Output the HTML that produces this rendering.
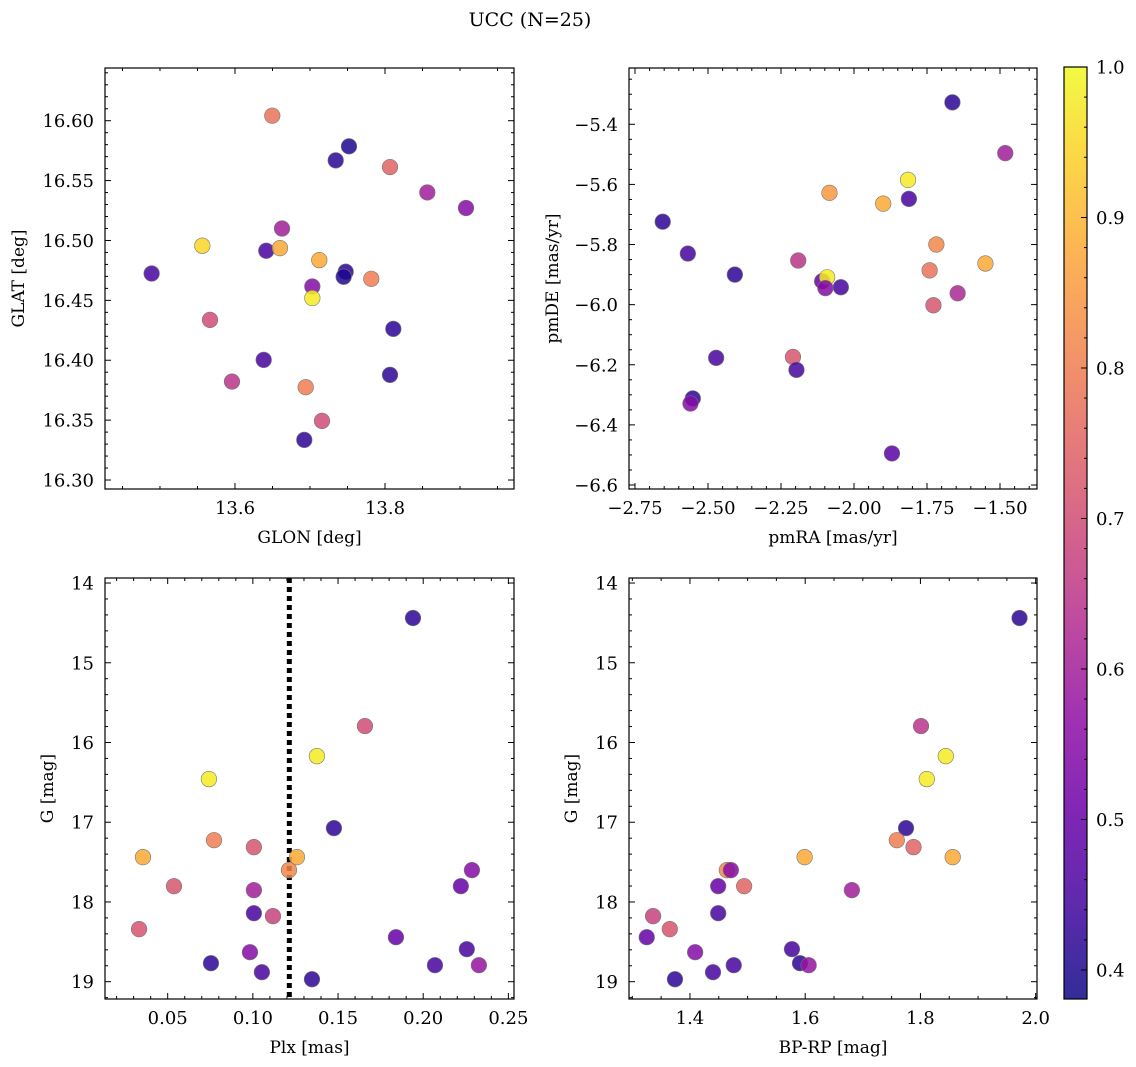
<!DOCTYPE html>
<html><head><meta charset="utf-8"><style>
html,body{margin:0;padding:0;background:#fff;}
svg{display:block;font-family:"DejaVu Serif","Liberation Serif",serif;}
</style></head><body>
<svg id="fig" width="1136" height="1067" viewBox="0 0 1136 1067" xmlns="http://www.w3.org/2000/svg">
<text x="530" y="26" font-size="19" text-anchor="middle">UCC (N=25)</text>
</svg>
<script>
// ---- data ----
const glon = [13.6497,13.7520,13.7343,13.8067,13.8564,13.9080,13.6627,13.5564,13.6417,13.6600,13.4889,13.7124,13.7476,13.7449,13.7817,13.7031,13.7031,13.5667,13.8111,13.6383,13.5960,13.8067,13.6943,13.7160,13.6924];
const glat = [16.6042,16.5786,16.5669,16.5613,16.5401,16.5271,16.5100,16.4956,16.4914,16.4936,16.4724,16.4836,16.4739,16.4697,16.4680,16.4616,16.4519,16.4337,16.4262,16.4003,16.3822,16.3878,16.3775,16.3494,16.3335];
const probPos = [0.78,0.40,0.42,0.75,0.60,0.55,0.60,0.95,0.45,0.88,0.45,0.88,0.42,0.40,0.80,0.55,0.98,0.70,0.42,0.45,0.65,0.42,0.80,0.70,0.42];

const pmra = [-1.663,-1.482,-1.815,-2.084,-1.900,-1.812,-2.655,-1.718,-2.191,-2.569,-2.408,-1.550,-1.741,-2.109,-2.092,-2.098,-2.045,-1.645,-1.728,-2.209,-2.197,-2.472,-2.552,-2.560,-1.870];
const pmde = [-5.327,-5.496,-5.585,-5.628,-5.664,-5.648,-5.724,-5.800,-5.853,-5.830,-5.900,-5.863,-5.886,-5.922,-5.909,-5.945,-5.942,-5.962,-6.002,-6.174,-6.217,-6.177,-6.312,-6.329,-6.495];
const probPm = [0.42,0.60,0.98,0.85,0.88,0.45,0.42,0.82,0.65,0.45,0.42,0.88,0.78,0.50,0.98,0.55,0.45,0.62,0.72,0.72,0.45,0.45,0.42,0.55,0.48];

const plx = [0.1940,0.1658,0.1376,0.0742,0.1476,0.0772,0.1006,0.1259,0.0355,0.1212,0.2286,0.0537,0.2221,0.1006,0.1006,0.1118,0.0332,0.1840,0.2256,0.0983,0.0754,0.2069,0.2327,0.1053,0.1347];
const gmagPlx = [14.439,15.794,16.171,16.459,17.074,17.225,17.312,17.438,17.438,17.601,17.601,17.802,17.802,17.852,18.141,18.178,18.341,18.442,18.592,18.630,18.768,18.793,18.793,18.881,18.969];
const probPlx = [0.42,0.70,0.98,0.98,0.42,0.80,0.72,0.88,0.88,0.82,0.55,0.72,0.50,0.60,0.45,0.68,0.72,0.50,0.45,0.55,0.42,0.45,0.58,0.45,0.42];
const plxMedian = 0.1214;

const bprp = [1.972,1.801,1.844,1.811,1.775,1.759,1.788,1.599,1.856,1.464,1.471,1.449,1.494,1.681,1.449,1.336,1.365,1.325,1.577,1.409,1.591,1.476,1.606,1.440,1.374];
const gmagCol = [14.439,15.794,16.171,16.459,17.074,17.225,17.312,17.438,17.438,17.601,17.601,17.802,17.802,17.852,18.141,18.178,18.341,18.442,18.592,18.630,18.768,18.793,18.793,18.881,18.969];
const probCol = [0.42,0.65,0.98,0.98,0.42,0.80,0.75,0.88,0.88,0.82,0.55,0.50,0.75,0.60,0.45,0.68,0.72,0.50,0.45,0.55,0.42,0.45,0.58,0.45,0.42];

const cbTicks = [0.4,0.5,0.6,0.7,0.8,0.9,1.0];

// ---- helpers ----
const NS="http://www.w3.org/2000/svg";
const svg=document.getElementById('fig');
function mk(tag,attrs,parent){const e=document.createElementNS(NS,tag);for(const k in attrs)e.setAttribute(k,attrs[k]);(parent||svg).appendChild(e);return e;}
const plasma=[[13,8,135],[65,4,157],[106,0,168],[143,13,164],[177,42,144],[204,71,120],[225,100,98],[242,132,75],[252,166,54],[252,206,37],[240,249,33]];
function cmap(t){t=Math.max(0,Math.min(1,t));const s=t*(plasma.length-1);const i=Math.min(Math.floor(s),plasma.length-2);const f=s-i;const a=plasma[i],b=plasma[i+1];return 'rgb('+[0,1,2].map(k=>Math.round(a[k]+(b[k]-a[k])*f)).join(',')+')';}
const vmin=0.3807,vmax=1.0;
function cnorm(v){return (v-vmin)/(vmax-vmin);}
function fmt(v,d){let s=v.toFixed(d);if(s.startsWith('-'))s='\u2212'+s.slice(1);return s;}

function panel(name,box,xr,yr,xmaj,xmin,xd,ymaj,ymin,yd,xlab,ylab,yoff,xs,ys,ps,extra){
  const [L,T,R,B]=box;
  const g=mk('g',{});  
  const X=v=>L+(v-xr[0])/(xr[1]-xr[0])*(R-L);
  const Y=v=>T+(v-yr[0])/(yr[1]-yr[0])*(B-T);
  if(extra) extra(g,X,Y);
  for(let i=0;i<xs.length;i++){
    const c=mk('circle',{cx:X(xs[i]),cy:Y(ys[i]),r:7.8,fill:cmap(cnorm(ps[i])),'fill-opacity':0.85,stroke:'#777','stroke-width':0.6},g);
    
    
  }
  mk('rect',{x:L,y:T,width:R-L,height:B-T,fill:'none',stroke:'#000','stroke-width':1.2},g);
  const lo=Math.min(xr[0],xr[1]),hi=Math.max(xr[0],xr[1]);
  for(let v=Math.ceil(lo/xmin-1e-6)*xmin;v<=hi+1e-9;v+=xmin){
    const isMaj=Math.abs(v/xmaj-Math.round(v/xmaj))<1e-4;const len=isMaj?6:3;const x=X(v);
    mk('line',{x1:x,y1:B,x2:x,y2:B-len,stroke:'#000','stroke-width':1},g);
    mk('line',{x1:x,y1:T,x2:x,y2:T+len,stroke:'#000','stroke-width':1},g);
    if(isMaj){const t=mk('text',{x:x,y:B+25,'font-size':18,'text-anchor':'middle'},g);t.textContent=fmt(v,xd);}
  }
  const ylo=Math.min(yr[0],yr[1]),yhi=Math.max(yr[0],yr[1]);
  for(let v=Math.ceil(ylo/ymin-1e-6)*ymin;v<=yhi+1e-9;v+=ymin){
    const isMaj=Math.abs(v/ymaj-Math.round(v/ymaj))<1e-4;const len=isMaj?6:3;const y=Y(v);
    mk('line',{x1:L,y1:y,x2:L+len,y2:y,stroke:'#000','stroke-width':1},g);
    mk('line',{x1:R,y1:y,x2:R-len,y2:y,stroke:'#000','stroke-width':1},g);
    if(isMaj){const t=mk('text',{x:L-11,y:y+6.5,'font-size':18,'text-anchor':'end'},g);t.textContent=fmt(v,yd);}
  }
  const xl=mk('text',{x:(L+R)/2,y:B+54,'font-size':17,'text-anchor':'middle'},g);xl.textContent=xlab;
  
  const yx=L-yoff;
  const yl=mk('text',{x:yx,y:(T+B)/2,'font-size':17,'text-anchor':'middle',transform:'rotate(-90 '+yx+' '+(T+B)/2+')'},g);yl.textContent=ylab;
  
}

panel('panel-glon-glat',[105,68,514,489],[13.4267,13.972],[16.644,16.2925],0.2,0.05,1,0.05,0.01,2,'GLON [deg]','GLAT [deg]',81,glon,glat,probPos);
panel('panel-pm',[629,68,1037,489],[-2.7705,-1.3733],[-5.2127,-6.6133],0.25,0.05,2,0.2,0.05,1,'pmRA [mas/yr]','pmDE [mas/yr]',71,pmra,pmde,probPm);
panel('panel-plx-g',[105,578,514,999],[0.0132,0.2533],[13.937,19.217],0.05,0.01,2,1,0.2,0,'Plx [mas]','G [mag]',52,plx,gmagPlx,probPlx,
  (g,X,Y)=>{const l=mk('line',{x1:X(plxMedian),y1:578,x2:X(plxMedian),y2:999,stroke:'#000','stroke-width':5,'stroke-dasharray':'5 4'},g);});
panel('panel-cmd',[629,578,1037,999],[1.2942,2.0023],[13.937,19.217],0.2,0.05,1,1,0.2,0,'BP-RP [mag]','G [mag]',52,bprp,gmagCol,probCol);

// colorbar
(function(){
  const L=1064,R=1087,T=67,B=999;
  const g=mk('g',{});
  const defs=mk('defs',{},g);
  const gr=mk('linearGradient',{id:'cbg',x1:0,y1:1,x2:0,y2:0},defs);
  for(let i=0;i<=20;i++){mk('stop',{offset:i/20,'stop-color':cmap(i/20),'stop-opacity':0.85},gr);}
  mk('rect',{x:L,y:T,width:R-L,height:B-T,fill:'url(#cbg)',stroke:'#000','stroke-width':1.2},g);
  const Y=v=>B-(v-vmin)/(vmax-vmin)*(B-T);
  for(let v=0.40;v<=1.0001;v+=0.02){
    const isMaj=Math.abs(v*10-Math.round(v*10))<1e-4;const y=Y(v);
    mk('line',{x1:R,y1:y,x2:R-(isMaj?6:3),y2:y,stroke:'#000','stroke-width':1},g);
  }
  cbTicks.forEach(v=>{const t=mk('text',{x:R+9,y:Y(v)+6.5,'font-size':18},g);t.textContent=v.toFixed(1);});
})();
</script>
</body></html>
